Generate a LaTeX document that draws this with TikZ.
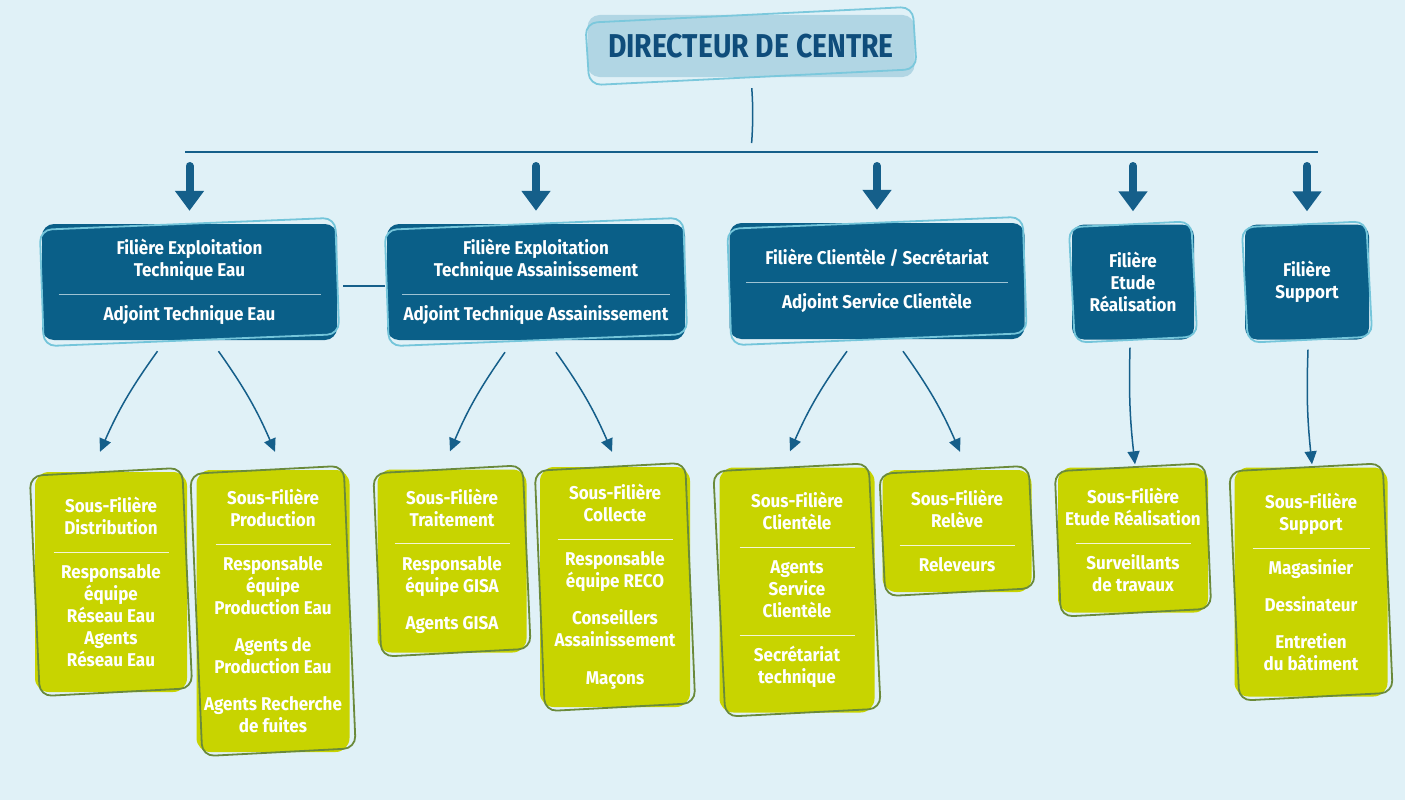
\documentclass[tikz,border=0pt]{standalone}
\usepackage{fontspec}
\setmainfont{Fira Sans}[FakeStretch=0.92]
\newfontfamily\titlefont{Fira Sans}[FakeStretch=0.86]
\usetikzlibrary{arrows.meta}

\definecolor{bgblue}{HTML}{E0F1F7}
\definecolor{dirfill}{HTML}{B1D6E4}
\definecolor{dirline}{HTML}{7BC8DC}
\definecolor{dirtext}{HTML}{0F4D7B}
\definecolor{darkblue}{HTML}{0A5F88}
\definecolor{boxline}{HTML}{74C5DA}
\definecolor{linkblue}{HTML}{155F8A}
\definecolor{lime}{HTML}{C8D400}
\definecolor{olive}{HTML}{6A8A3A}
\definecolor{ruleblue}{HTML}{9EC3D3}
\definecolor{rulecream}{HTML}{F4F6D6}

% inset rule inside a box text
\newcommand{\hsep}[2]{{\color{#1}\rule[4pt]{#2}{0.9pt}}}
% hand-drawn outline, slightly turned round the node
\newcommand{\sketchline}[4]{%
  \draw[#2, line width=1.8pt, rounded corners=12pt]
    ([shift={(-#3,#4)}]#1.north west) -- ([shift={(-#3,-#4)}]#1.north east)
    -- ([shift={(#3,-#4)}]#1.south east) -- ([shift={(#3,#4)}]#1.south west) -- cycle;}

\tikzset{
  txt/.style={font=\bfseries\fontsize{18.5}{22}\selectfont, align=center, inner sep=0pt, text=white},
  director/.style={fill=dirfill, rounded corners=12pt, inner sep=0pt, text=dirtext,
    font=\titlefont\bfseries\fontsize{33}{36}\selectfont},
  filiere/.style={txt, fill=darkblue, rounded corners=12pt},
  sousfil/.style={txt, fill=lime, rounded corners=14pt},
  link/.style={draw=linkblue, line width=1.8pt},
  bigarrow/.style={draw=linkblue, line width=8pt, line cap=round,
    -{Triangle[length=20pt,width=28pt]}, shorten <=14pt, shorten >=13pt},
  thinarrow/.style={draw=linkblue, line width=1.5pt, -{Triangle[length=13pt,width=12pt]}}
}

\begin{document}
\begin{tikzpicture}[x=1pt, y=-1pt]
  \fill[bgblue] (0,0) rectangle (1405,800);
  \useasboundingbox (0,0) rectangle (1405,800);

  % top
  \node[director, minimum width=327pt, minimum height=62pt] (dir) at (751,46) {DIRECTEUR DE CENTRE};
  \sketchline{dir}{dirline}{2}{8}

  \coordinate (busL) at (185,152);
  \coordinate (busR) at (1318,152);
  \draw[link] (busL) -- (busR);
  \draw[link, line width=1.5pt, shorten <=11pt, shorten >=9pt] (dir.south) to[bend left=4] (dir.south |- busL);

  % filieres
  \node[filiere, minimum width=295pt, minimum height=116pt] (f1) at (189.5,282)
    {Filière Exploitation\\Technique Eau\\\hsep{ruleblue}{262pt}\\Adjoint Technique Eau};
  \node[filiere, minimum width=298pt, minimum height=116pt] (f2) at (536,282)
    {Filière Exploitation\\Technique Assainissement\\\hsep{ruleblue}{268pt}\\Adjoint Technique Assainissement};
  \node[filiere, minimum width=295pt, minimum height=116pt] (f3) at (877,281)
    {Filière Clientèle / Secrétariat\\\hsep{ruleblue}{262pt}\\Adjoint Service Clientèle};
  \node[filiere, minimum width=122pt, minimum height=115pt] (f4) at (1133,282)
    {Filière\\Etude\\Réalisation};
  \node[filiere, minimum width=124pt, minimum height=115pt] (f5) at (1307,282)
    {Filière\\Support};
  \sketchline{f1}{boxline}{2}{6}
  \sketchline{f2}{boxline}{2}{6}
  \sketchline{f3}{boxline}{2}{6}
  \sketchline{f4}{boxline}{3}{3}
  \sketchline{f5}{boxline}{3}{3}

  \foreach \f in {f1,f2,f3,f4,f5}
    \draw[bigarrow] (\f.north |- busL) -- (\f.north);
  \draw[link, line width=1.2pt, shorten <=6pt, shorten >=2pt] ([yshift=-4pt]f1.east) -- ([yshift=-4pt]f2.west);

  % sous-filieres
  \node[sousfil, minimum width=152pt, minimum height=220pt] (s1) at (111,582)
    {Sous-Filière\\Distribution\\\hsep{rulecream}{115pt}\\Responsable\\équipe\\Réseau Eau\\Agents\\Réseau Eau};
  \node[sousfil, minimum width=153pt, minimum height=282pt] (s2) at (273,611)
    {Sous-Filière\\Production\\\hsep{rulecream}{115pt}\\Responsable\\équipe\\Production Eau\\[15pt]Agents de\\Production Eau\\[15pt]Agents Recherche\\de fuites};
  \node[sousfil, minimum width=149pt, minimum height=183pt] (s3) at (452,561)
    {Sous-Filière\\Traitement\\\hsep{rulecream}{115pt}\\Responsable\\équipe GISA\\[15pt]Agents GISA};
  \node[sousfil, minimum width=150pt, minimum height=240pt] (s4) at (615,587)
    {Sous-Filière\\Collecte\\\hsep{rulecream}{115pt}\\Responsable\\équipe RECO\\[15pt]Conseillers\\Assainissement\\[16pt]Maçons};
  \node[sousfil, minimum width=155pt, minimum height=245pt] (s5) at (797,590)
    {Sous-Filière\\Clientèle\\\hsep{rulecream}{115pt}\\Agents\\Service\\Clientèle\\\hsep{rulecream}{115pt}\\Secrétariat\\technique};
  \node[sousfil, minimum width=149pt, minimum height=122pt] (s6) at (957,531)
    {Sous-Filière\\Relève\\\hsep{rulecream}{115pt}\\Releveurs};
  \node[sousfil, minimum width=150pt, minimum height=145pt] (s7) at (1133,540)
    {Sous-Filière\\Etude Réalisation\\\hsep{rulecream}{115pt}\\Surveillants\\de travaux};
  \node[sousfil, minimum width=153pt, minimum height=229pt] (s8) at (1311,582)
    {Sous-Filière\\Support\\\hsep{rulecream}{117pt}\\Magasinier\\[15pt]Dessinateur\\[15pt]Entretien\\du bâtiment};
  \sketchline{s1}{olive}{5}{4}
  \sketchline{s2}{olive}{6}{4}
  \sketchline{s3}{olive}{4}{4}
  \sketchline{s4}{olive}{5}{4}
  \sketchline{s5}{olive}{6}{4}
  \sketchline{s6}{olive}{3}{4}
  \sketchline{s7}{olive}{3}{4}
  \sketchline{s8}{olive}{5}{4}

  % liens filiere -> sous-filiere
  \draw[thinarrow] ([shift={(-32,11)}]f1.south) to[bend right=6] ([shift={(-11,-20)}]s1.north);
  \draw[thinarrow] ([shift={(29,11)}]f1.south) to[bend left=6] ([shift={(2,-18)}]s2.north);
  \draw[thinarrow] ([shift={(-31,12)}]f2.south) to[bend right=6] ([shift={(-2,-18)}]s3.north);
  \draw[thinarrow] ([shift={(20,12)}]f2.south) to[bend left=6] ([shift={(-3,-15)}]s4.north);
  \draw[thinarrow] ([shift={(-30,12)}]f3.south) to[bend right=6] ([shift={(-7,-16)}]s5.north);
  \draw[thinarrow] ([shift={(26,12)}]f3.south) to[bend left=6] ([shift={(3,-18)}]s6.north);
  \draw[thinarrow] ([shift={(-3,8)}]f4.south) to[bend right=4] ([shift={(2,-3)}]s7.north);
  \draw[thinarrow] ([shift={(1,10)}]f5.south) to[bend right=4] ([shift={(1,-3)}]s8.north);
\end{tikzpicture}
\end{document}
